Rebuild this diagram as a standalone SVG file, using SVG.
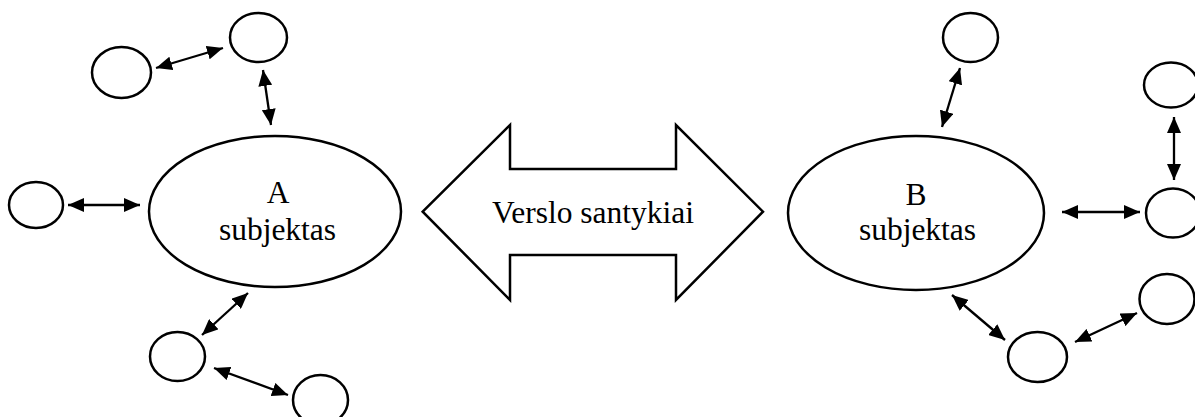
<svg xmlns="http://www.w3.org/2000/svg" width="1195" height="417" viewBox="0 0 1195 417">
<style>
.n{fill:#fff;stroke:#000;stroke-width:2.5}
.t{font-family:"Liberation Serif","Times New Roman",serif;font-size:31.5px;fill:#000;text-anchor:middle}
.c line{stroke:#000;stroke-width:2.3}
</style>
<defs>
<marker id="ah" viewBox="0 0 16 14" refX="16" refY="7" markerWidth="16" markerHeight="14" markerUnits="userSpaceOnUse" orient="auto-start-reverse">
<path d="M0,0 L16,7 L0,14 z" fill="#000"/>
</marker>
</defs>
<rect width="1195" height="417" fill="#fff"/>
<g id="nodeA"><ellipse class="n" cx="275" cy="211.5" rx="126" ry="75.5"/><text class="t" x="278" y="203">A</text><text class="t" x="277.5" y="240">subjektas</text></g>
<g id="a1"><ellipse class="n" cx="121.5" cy="72.5" rx="29.5" ry="25.5"/></g>
<g id="a2"><ellipse class="n" cx="258.5" cy="37.5" rx="28.5" ry="24.5"/></g>
<g id="a3"><ellipse class="n" cx="36" cy="205" rx="27" ry="23"/></g>
<g id="a4"><ellipse class="n" cx="177.5" cy="356.5" rx="27.5" ry="24.5"/></g>
<g id="a5"><ellipse class="n" cx="320.5" cy="400" rx="27.5" ry="25"/></g>
<g id="rel"><polygon class="n" points="422.7,211.7 510,125 510,169 676,169 676,125 763,211.7 676,300 676,255 510,255 510,300"/><text class="t" x="593" y="223">Verslo santykiai</text></g>
<g id="nodeB"><ellipse class="n" cx="916" cy="213" rx="128" ry="77"/><text class="t" x="916" y="205">B</text><text class="t" x="917.5" y="240">subjektas</text></g>
<g id="b1"><ellipse class="n" cx="970.5" cy="37.5" rx="27.5" ry="24.5"/></g>
<g id="b2"><ellipse class="n" cx="1171" cy="85" rx="27" ry="22.5"/></g>
<g id="b3"><ellipse class="n" cx="1173" cy="213" rx="27" ry="24.5"/></g>
<g id="b4"><ellipse class="n" cx="1167" cy="299" rx="27.5" ry="25"/></g>
<g id="b5"><ellipse class="n" cx="1037.5" cy="357" rx="29.5" ry="25"/></g>
<g class="c" id="connectors" marker-start="url(#ah)" marker-end="url(#ah)">
<line x1="156" y1="68" x2="223" y2="48"/>
<line x1="263" y1="70" x2="271" y2="125"/>
<line x1="68" y1="205" x2="140" y2="205"/>
<line x1="248" y1="293" x2="202" y2="335"/>
<line x1="214" y1="368" x2="288" y2="395"/>
<line x1="960" y1="68" x2="942" y2="127"/>
<line x1="1174" y1="117" x2="1174" y2="180"/>
<line x1="1062" y1="212" x2="1140" y2="212"/>
<line x1="952" y1="295" x2="1005" y2="340"/>
<line x1="1075" y1="342" x2="1137" y2="313"/>
</g>
</svg>
